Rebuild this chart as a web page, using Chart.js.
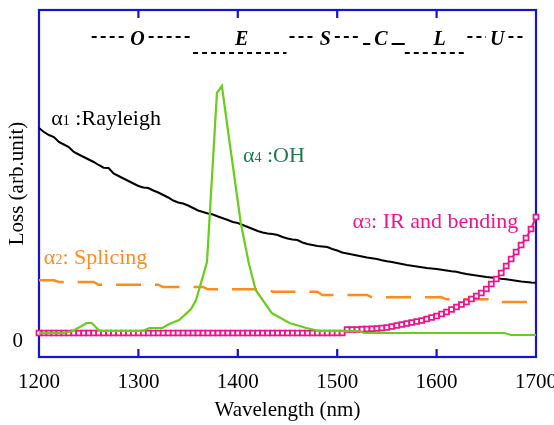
<!DOCTYPE html>
<html>
<head>
<meta charset="utf-8">
<script src="https://cdn.jsdelivr.net/npm/chart.js@4.4.1/dist/chart.umd.min.js"></script>
<style>
  html, body { margin: 0; padding: 0; background: #fff; }
  canvas { display: block; }
</style>
</head>
<body>
<canvas id="loss" width="554" height="425"></canvas>
<script>
// Loss contributions vs wavelength (arbitrary units), 5 nm sampling
const wl5 = [1200, 1205, 1210, 1215, 1220, 1225, 1230, 1235, 1240, 1245,
  1250, 1255, 1260, 1265, 1270, 1275, 1280, 1285, 1290, 1295,
  1300, 1305, 1310, 1315, 1320, 1325, 1330, 1335, 1340, 1345,
  1350, 1355, 1360, 1365, 1370, 1375, 1380, 1385, 1390, 1395,
  1400, 1405, 1410, 1415, 1420, 1425, 1430, 1435, 1440, 1445,
  1450, 1455, 1460, 1465, 1470, 1475, 1480, 1485, 1490, 1495,
  1500, 1505, 1510, 1515, 1520, 1525, 1530, 1535, 1540, 1545,
  1550, 1555, 1560, 1565, 1570, 1575, 1580, 1585, 1590, 1595,
  1600, 1605, 1610, 1615, 1620, 1625, 1630, 1635, 1640, 1645,
  1650, 1655, 1660, 1665, 1670, 1675, 1680, 1685, 1690, 1695, 1700];

const rayleighLoss = [20.5, 20.1, 19.8, 19.6, 19.1, 18.85, 18.6, 18.1, 17.85, 17.6,
  17.35, 17.1, 16.8, 16.53, 16.5, 15.95, 15.7, 15.45, 15.2, 14.95,
  14.7, 14.55, 14.5, 14.25, 14.05, 13.8, 13.55, 13.25, 13.05, 12.95,
  12.75, 12.5, 12.25, 12.1, 11.95, 11.85, 11.65, 11.47, 11.3, 11.1,
  11.0, 10.8, 10.6, 10.4, 10.2, 10.05, 9.95, 9.9, 9.8, 9.6,
  9.45, 9.35, 9.3, 9.05, 8.9, 8.8, 8.7, 8.65, 8.6, 8.4,
  8.25, 8.05, 7.95, 7.85, 7.75, 7.65, 7.55, 7.48, 7.4, 7.28,
  7.18, 7.1, 7.0, 6.9, 6.8, 6.72, 6.65, 6.58, 6.5, 6.45,
  6.4, 6.33, 6.25, 6.17, 6.12, 6.0, 5.9, 5.82, 5.75, 5.68,
  5.6, 5.55, 5.5, 5.42, 5.37, 5.3, 5.22, 5.15, 5.1, 5.05, 5.02];

const splicingLoss = [5.27, 5.27, 5.27, 5.27, 5.1, 5.1, 5.1, 5.1, 5.1, 5.1,
  5.1, 5.1, 4.83, 4.83, 4.83, 4.83, 4.83, 4.83, 4.83, 4.83,
  4.83, 4.83, 4.83, 4.83, 4.83, 4.6, 4.6, 4.6, 4.6, 4.6,
  4.6, 4.6, 4.6, 4.6, 4.37, 4.37, 4.37, 4.37, 4.37, 4.37,
  4.37, 4.37, 4.37, 4.37, 4.37, 4.37, 4.37, 4.13, 4.13, 4.13,
  4.13, 4.13, 4.13, 4.13, 4.13, 4.13, 4.13, 3.8, 3.8, 3.8,
  3.8, 3.8, 3.8, 3.8, 3.8, 3.8, 3.8, 3.57, 3.57, 3.57,
  3.57, 3.57, 3.57, 3.57, 3.57, 3.57, 3.57, 3.57, 3.57, 3.57,
  3.57, 3.57, 3.37, 3.37, 3.37, 3.37, 3.37, 3.37, 3.37, 3.37,
  3.37, 3.37, 3.1, 3.1, 3.1, 3.1, 3.1, 3.1, 3.1, 3.1, 3.1];

const irBendLoss = [0, 0, 0, 0, 0, 0, 0, 0, 0, 0,
  0, 0, 0, 0, 0, 0, 0, 0, 0, 0,
  0, 0, 0, 0, 0, 0, 0, 0, 0, 0,
  0, 0, 0, 0, 0, 0, 0, 0, 0, 0,
  0, 0, 0, 0, 0, 0, 0, 0, 0, 0,
  0, 0, 0, 0, 0, 0, 0, 0, 0, 0,
  0, 0, 0.35, 0.35, 0.35, 0.38, 0.4, 0.42, 0.45, 0.5,
  0.55, 0.65, 0.75, 0.85, 0.95, 1.05, 1.15, 1.25, 1.4, 1.55,
  1.7, 1.9, 2.1, 2.35, 2.6, 2.85, 3.1, 3.4, 3.7, 4.0,
  4.4, 4.9, 5.4, 6.0, 6.7, 7.4, 8.1, 8.8, 9.5, 10.4, 11.6];

// OH absorption sampled unevenly around the 1383 nm peak
const ohWl = [1200, 1225, 1234, 1248, 1253, 1261, 1304, 1311, 1324, 1331,
  1341, 1353, 1358, 1369, 1379, 1384, 1391, 1403, 1411, 1418,
  1434, 1452, 1469, 1482, 1522, 1527, 1668, 1675, 1700];
const ohLoss = [0, 0, 0.2, 1.0, 1.0, 0.2, 0.2, 0.5, 0.5, 0.9,
  1.3, 2.4, 3.3, 7.1, 24.0, 24.7, 19.6, 11.0, 7.0, 4.3,
  2.0, 1.0, 0.5, 0.2, 0.2, 0, 0, -0.2, -0.2];

// Telecom bands across the top of the plot
const bandNames = ['O', 'E', 'S', 'C', 'L', 'U'];
const bandFrom = [1253, 1355, 1452, 1526, 1568, 1631];
const bandTo = [1355, 1449, 1523, 1568, 1630, 1689];
const bandMark = [1299, 1404, 1488, 1544, 1603, 1661];

const xTicks = [1200, 1300, 1400, 1500, 1600, 1700];

const AXIS = '#1414d2';
const SERIF = '"Liberation Serif", "Times New Roman", serif';
const C = { rayleigh: '#000000', splice: '#ff8a1e', ir: '#f0148c', oh: '#6acc1c', ohText: '#1e7a4e' };

const pts = (xs, ys) => xs.map((x, i) => ({ x, y: ys[i] }));

// keep tick labels from pushing the plot box inward
const noEdgePadding = (s) => { s.paddingLeft = 0; s.paddingRight = 0; s.paddingTop = 0; s.paddingBottom = 0; };

// blue box with inward ticks on top and bottom
const frame = {
  id: 'frame',
  beforeDatasetsDraw(chart) {
    const { ctx, chartArea: a, scales: { x } } = chart;
    ctx.save();
    ctx.strokeStyle = AXIS;
    ctx.lineWidth = 2.2;
    ctx.strokeRect(a.left, a.top, a.right - a.left, a.bottom - a.top);
    ctx.beginPath();
    x.ticks.forEach((t) => {
      if (t.value <= x.min || t.value >= x.max) return;
      const px = x.getPixelForValue(t.value);
      ctx.moveTo(px, a.top); ctx.lineTo(px, a.top + 8);
      ctx.moveTo(px, a.bottom); ctx.lineTo(px, a.bottom - 8);
    });
    ctx.stroke();
    ctx.restore();
  },
};

// band letters with dashed spans; rise = line height above the letter baseline
const bandRise = [8, -8, 8, 1, -8, 8];
const bands = {
  id: 'bands',
  afterDatasetsDraw(chart) {
    const { ctx, chartArea: a, scales: { x } } = chart;
    const base = a.top + 35;
    ctx.save();
    ctx.font = `italic bold 20px ${SERIF}`;
    ctx.fillStyle = '#000';
    ctx.strokeStyle = '#000';
    ctx.lineWidth = 1.8;
    ctx.textAlign = 'center';
    ctx.textBaseline = 'alphabetic';
    bandNames.forEach((name, i) => {
      const x0 = x.getPixelForValue(bandFrom[i]);
      const x1 = x.getPixelForValue(bandTo[i]);
      const xm = x.getPixelForValue(bandMark[i]);
      const ly = base - bandRise[i];
      const hw = ctx.measureText(name).width / 2 + 4;
      ctx.setLineDash(name === 'C' ? [] : [5, 4]);
      ctx.beginPath();
      if (bandRise[i] > 0) {
        ctx.moveTo(x0, ly); ctx.lineTo(xm - hw, ly);
        ctx.moveTo(xm + hw, ly); ctx.lineTo(x1, ly);
      } else {
        ctx.moveTo(x0, ly); ctx.lineTo(x1, ly);
      }
      ctx.stroke();
      ctx.fillText(name, xm, base);
    });
    ctx.restore();
  },
};

// curve captions: [text, size] runs so the index digit is set smaller
const captions = [
  { wl: 1212.4, v: 20.8, color: C.rayleigh, runs: [['α', 22], ['1', 14], [' :Rayleigh', 22]] },
  { wl: 1204.9, v: 6.9, color: C.splice, runs: [['α', 22], ['2', 14], [': Splicing', 22]] },
  { wl: 1515.4, v: 10.5, color: C.ir, runs: [['α', 22], ['3', 14], [': IR and bending', 22]] },
  { wl: 1405.2, v: 17.1, color: C.ohText, runs: [['α', 22], ['4', 14], [' :OH', 22]] },
];
const labels = {
  id: 'labels',
  afterDatasetsDraw(chart) {
    const { ctx, scales: { x, y } } = chart;
    ctx.save();
    ctx.textAlign = 'left';
    ctx.textBaseline = 'alphabetic';
    captions.forEach((c) => {
      let px = x.getPixelForValue(c.wl);
      const py = y.getPixelForValue(c.v);
      ctx.fillStyle = c.color;
      c.runs.forEach(([text, size]) => {
        ctx.font = `${size}px ${SERIF}`;
        ctx.fillText(text, px, py);
        px += ctx.measureText(text).width;
      });
    });
    ctx.restore();
  },
};

new Chart(document.getElementById('loss'), {
  type: 'line',
  data: {
    datasets: [
      {
        label: 'OH', data: pts(ohWl, ohLoss), order: 0,
        borderColor: C.oh, borderWidth: 2.2, pointRadius: 0, tension: 0,
      },
      {
        label: 'IR and bending', data: pts(wl5, irBendLoss), order: 1, clip: 8,
        borderColor: C.ir, borderWidth: 2, tension: 0,
        pointStyle: 'rect', pointRadius: 3.5, pointBorderWidth: 1.8,
        pointBorderColor: C.ir, pointBackgroundColor: '#fff',
      },
      {
        label: 'Rayleigh', data: pts(wl5, rayleighLoss), order: 2,
        borderColor: C.rayleigh, borderWidth: 2, pointRadius: 0, tension: 0,
      },
      {
        label: 'Splicing', data: pts(wl5, splicingLoss), order: 3,
        borderColor: C.splice, borderWidth: 2.4, borderDash: [25, 14], pointRadius: 0, tension: 0,
      },
    ],
  },
  options: {
    responsive: false,
    animation: false,
    layout: { padding: { top: 10, right: 18, left: 0, bottom: 0 } },
    plugins: { legend: { display: false }, tooltip: { enabled: false } },
    scales: {
      x: {
        type: 'linear', min: 1200, max: 1700,
        afterBuildTicks: (s) => { s.ticks = xTicks.map((v) => ({ value: v })); },
        afterFit: (s) => { s.height = 68; noEdgePadding(s); },
        grid: { display: false, drawTicks: false },
        border: { display: false },
        ticks: {
          color: '#000', padding: 13, maxRotation: 0, font: { family: SERIF, size: 21 },
          callback: (v) => String(v),
        },
        title: {
          display: true, text: 'Wavelength (nm)', color: '#000',
          font: { family: SERIF, size: 21 }, padding: { top: 0, bottom: 2 },
        },
      },
      y: {
        min: -2.4, max: 32.3,
        afterBuildTicks: (s) => { s.ticks = [{ value: 0 }]; },
        afterFit: (s) => { s.width = 39; noEdgePadding(s); },
        grid: { display: false, drawTicks: false },
        border: { display: false },
        ticks: {
          color: '#000', padding: 16, labelOffset: 8, font: { family: SERIF, size: 21 },
          callback: (v) => String(v),
        },
        title: {
          display: true, text: 'Loss (arb.unit)', color: '#000',
          font: { family: SERIF, size: 21 }, padding: { top: 5, bottom: 0 },
        },
      },
    },
  },
  plugins: [frame, bands, labels],
});
</script>
</body>
</html>
